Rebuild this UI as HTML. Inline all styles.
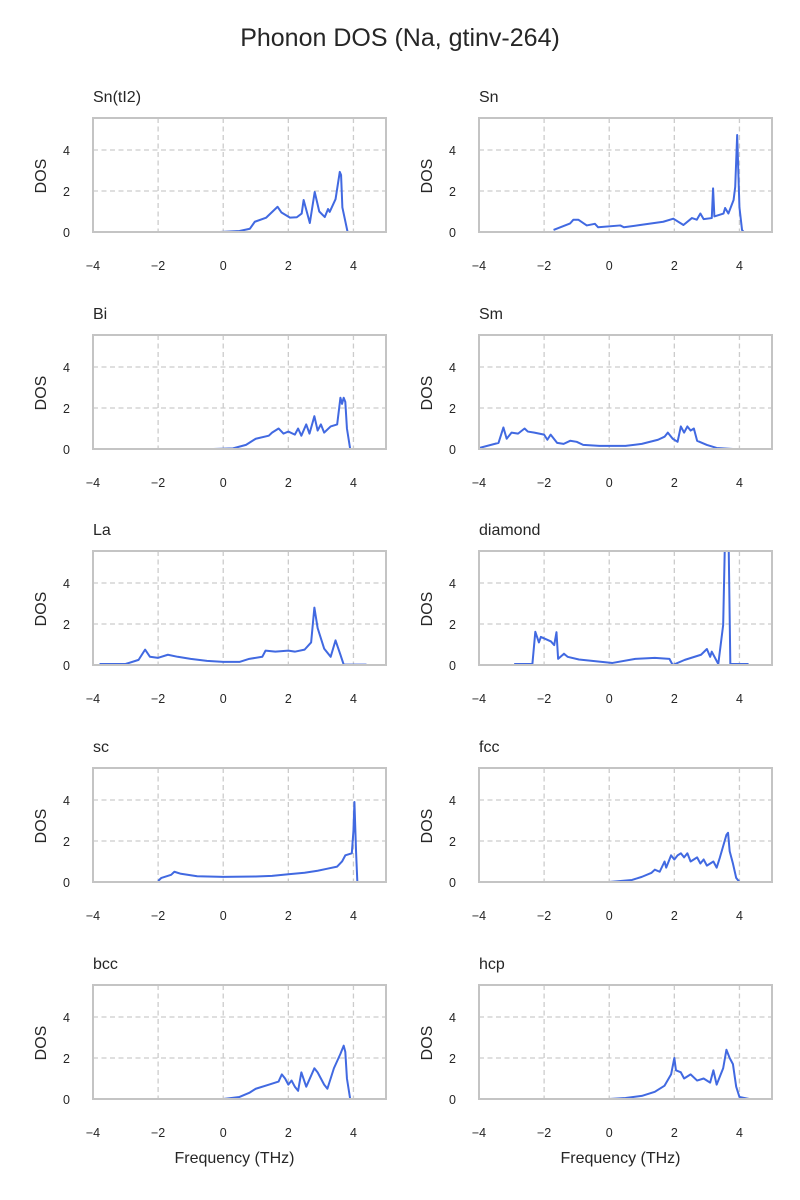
<!DOCTYPE html>
<html><head><meta charset="utf-8"><style>
body{margin:0;background:#fff;}
svg{display:block;font-family:"Liberation Sans","DejaVu Sans",sans-serif;}
</style></head><body>
<svg id="c" width="800" height="1200" viewBox="0 0 800 1200">
<text x="400" y="46" text-anchor="middle" font-size="25" fill="#262626">Phonon DOS (Na, gtinv-264)</text>
</svg>
<script>
const panelNames = ["Sn(tI2)","Sn","Bi","Sm","La","diamond","sc","fcc","bcc","hcp"];
const xTicks = [-4,-2,0,2,4];
const yTicks = [0,2,4];
const freqSnTI2 = [-0.1,0.5,0.82,0.97,1.32,1.67,1.79,2.05,2.26,2.41,2.47,2.66,2.81,2.95,3.12,3.22,3.27,3.45,3.58,3.62,3.66,3.82];
const dosSnTI2  = [0,0.05,0.16,0.5,0.7,1.23,0.95,0.7,0.72,0.9,1.56,0.44,1.95,1.0,0.73,1.12,0.98,1.6,2.93,2.78,1.2,0];
const freqSn = [-1.71,-1.2,-1.1,-0.95,-0.69,-0.44,-0.34,0.34,0.45,0.95,1.66,1.97,2.28,2.54,2.69,2.8,2.9,3.15,3.19,3.23,3.51,3.56,3.66,3.82,3.87,3.93,4.0,4.08,4.13];
const dosSn  = [0.1,0.42,0.6,0.6,0.32,0.4,0.23,0.32,0.23,0.34,0.5,0.65,0.34,0.68,0.6,0.9,0.63,0.68,2.13,0.76,0.9,1.17,0.9,1.56,2.2,4.73,1.2,0.1,0];
const freqBi = [-0.3,0.3,0.7,1.0,1.4,1.5,1.7,1.85,2.0,2.2,2.3,2.4,2.55,2.65,2.8,2.9,3.0,3.1,3.3,3.5,3.6,3.65,3.7,3.75,3.8,3.9];
const dosBi  = [0,0.03,0.2,0.5,0.65,0.8,1.0,0.75,0.85,0.7,1.0,0.65,1.2,0.75,1.6,0.9,1.2,0.8,1.1,1.2,2.5,2.2,2.5,2.3,1.0,0];
const freqSm = [-4.0,-3.4,-3.25,-3.15,-3.0,-2.8,-2.6,-2.5,-2.3,-2.0,-1.9,-1.8,-1.6,-1.4,-1.2,-1.0,-0.8,-0.3,0.5,1.0,1.5,1.7,1.8,1.95,2.1,2.2,2.3,2.4,2.5,2.6,2.7,3.0,3.3,3.8];
const dosSm  = [0.05,0.3,1.05,0.5,0.8,0.75,1.0,0.85,0.8,0.7,0.45,0.7,0.3,0.25,0.4,0.35,0.2,0.15,0.15,0.25,0.45,0.6,0.8,0.5,0.35,1.1,0.8,1.1,0.9,1.0,0.4,0.2,0.05,0];
const freqLa = [-3.8,-3.0,-2.6,-2.4,-2.25,-2.0,-1.7,-1.4,-1.0,-0.5,0,0.5,0.8,1.2,1.3,1.6,2.0,2.2,2.5,2.7,2.8,2.9,3.1,3.3,3.45,3.6,3.7,4.4];
const dosLa  = [0.05,0.05,0.25,0.75,0.4,0.35,0.5,0.4,0.3,0.2,0.15,0.15,0.3,0.4,0.7,0.65,0.7,0.65,0.75,1.1,2.8,1.8,0.8,0.4,1.2,0.5,0.02,0.02];
const freqDiamond = [-2.92,-2.36,-2.27,-2.16,-2.1,-1.79,-1.69,-1.62,-1.57,-1.39,-1.28,-0.93,0.1,0.8,1.4,1.85,1.95,2.32,2.82,3.0,3.1,3.15,3.35,3.5,3.58,3.65,3.72,4.28];
const dosDiamond  = [0.05,0.05,1.62,1.1,1.37,1.15,0.97,1.6,0.3,0.55,0.4,0.27,0.1,0.3,0.35,0.3,0.0,0.25,0.5,0.78,0.4,0.65,0.05,1.95,8,8,0.05,0.05];
const freqSc = [-2.0,-1.9,-1.6,-1.5,-1.3,-0.8,0,1.0,1.5,2.0,2.5,2.9,3.2,3.5,3.65,3.75,3.95,4.0,4.03,4.08,4.12];
const dosSc  = [0.05,0.2,0.35,0.5,0.4,0.28,0.25,0.27,0.3,0.38,0.45,0.55,0.65,0.75,1.0,1.3,1.4,2.5,3.9,1.5,0];
const freqFcc = [0,0.7,1.0,1.3,1.4,1.55,1.7,1.75,1.9,2.0,2.1,2.2,2.3,2.4,2.5,2.7,2.8,2.9,3.0,3.2,3.3,3.4,3.6,3.65,3.7,3.8,3.9,4.0];
const dosFcc  = [0,0.1,0.25,0.45,0.6,0.5,1.0,0.7,1.3,1.1,1.3,1.4,1.2,1.4,1.0,1.2,0.9,1.1,0.8,1.0,0.7,1.2,2.3,2.4,1.5,0.9,0.2,0];
const freqBcc = [0,0.5,0.8,1.0,1.4,1.7,1.8,1.9,2.0,2.1,2.2,2.3,2.4,2.55,2.8,2.9,3.0,3.1,3.2,3.4,3.6,3.7,3.75,3.8,3.9];
const dosBcc  = [0,0.1,0.3,0.5,0.7,0.85,1.2,1.0,0.7,0.9,0.6,0.4,1.3,0.6,1.5,1.3,1.0,0.7,0.5,1.5,2.2,2.6,2.3,1.0,0];
const freqHcp = [0,0.5,1.0,1.4,1.7,1.9,2.0,2.05,2.2,2.3,2.5,2.7,2.9,3.1,3.2,3.3,3.5,3.6,3.7,3.8,3.9,4.0,4.3];
const dosHcp  = [0,0.05,0.15,0.35,0.65,1.2,2.0,1.4,1.3,1.0,1.2,0.9,1.0,0.8,1.4,0.7,1.5,2.4,2.0,1.7,0.6,0.1,0];
const allFreq = [freqSnTI2,freqSn,freqBi,freqSm,freqLa,freqDiamond,freqSc,freqFcc,freqBcc,freqHcp];
const allDos = [dosSnTI2,dosSn,dosBi,dosSm,dosLa,dosDiamond,dosSc,dosFcc,dosBcc,dosHcp];

const NS="http://www.w3.org/2000/svg";
const svg=document.getElementById('c');
function mk(tag,attrs,parent){const e=document.createElementNS(NS,tag);for(const k in attrs)e.setAttribute(k,attrs[k]);(parent||svg).appendChild(e);return e;}
const XMIN=-4,XMAX=5,YMIN=0,YMAX=5.56,W=293,H=114;
const lefts=[93,479], tops=[118,335,551,768,985];
panelNames.forEach((name,i)=>{
  const L=lefts[i%2], T=tops[Math.floor(i/2)];
  const sx=v=>L+(v-XMIN)/(XMAX-XMIN)*W;
  const sy=v=>T+H-(v-YMIN)/(YMAX-YMIN)*H;
  const g=mk('g',{});
  
  
  const cid='clip'+i;
  const cp=mk('clipPath',{id:cid},g); mk('rect',{x:L,y:T,width:W,height:H},cp);
  xTicks.forEach(t=>{
    if(t>XMIN){const l=mk('line',{x1:sx(t),x2:sx(t),y1:T,y2:T+H,stroke:'#cccccc','stroke-width':1.3,'stroke-dasharray':'5,3.5'},g);
    }
    const tx=mk('text',{x:sx(t),y:T+H+38,'text-anchor':'middle','font-size':12.5,fill:'#262626'},g);
    tx.textContent=(t<0?'\u2212'+Math.abs(t):t);
    
  });
  yTicks.forEach(t=>{
    if(t>YMIN){const l=mk('line',{x1:L,x2:L+W,y1:sy(t),y2:sy(t),stroke:'#cccccc','stroke-width':1.3,'stroke-dasharray':'5,3.5'},g);
    }
    const tx=mk('text',{x:L-23,y:sy(t)+5,'text-anchor':'end','font-size':12.5,fill:'#262626'},g);
    tx.textContent=t;
    
  });
  const fr=allFreq[i], ds=allDos[i];
  const tail=mk('polyline',{points:`${sx(XMIN+0.1)},${sy(0)} ${sx(XMAX-0.5)},${sy(0)}`,fill:'none',stroke:'#aab8ee','stroke-width':1.2,'clip-path':`url(#${cid})`},g);
  
  const pts=fr.map((f,j)=>sx(f)+','+sy(ds[j])).join(' ');
  const pl=mk('polyline',{points:pts,fill:'none',stroke:'#4169e1','stroke-width':2,'stroke-linejoin':'round','clip-path':`url(#${cid})`},g);
  
  const fr2=mk('rect',{x:L,y:T,width:W,height:H,fill:'none',stroke:'#c4c4c4','stroke-width':2},g);
  
  const tt=mk('text',{x:L,y:T-16,'font-size':16,fill:'#262626'},g);
  tt.textContent=name;
  
  const yl=mk('text',{x:0,y:0,'font-size':16,fill:'#262626','text-anchor':'middle',transform:`translate(${L-47},${T+H/2+1}) rotate(-90)`},g);
  yl.textContent='DOS';
  
  if(i>=8){const xl=mk('text',{x:L+W/2-5,y:T+H+64,'font-size':16,fill:'#262626','text-anchor':'middle'},g);
    xl.textContent='Frequency (THz)';
    }
});
</script>
</body></html>
